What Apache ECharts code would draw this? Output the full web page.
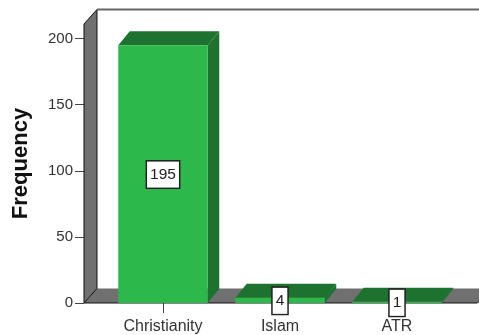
<!DOCTYPE html>
<html>
<head>
<meta charset="utf-8">
<style>html,body{margin:0;padding:0;background:#fff}#chart{width:479px;height:335px}</style>
<script src="https://cdn.jsdelivr.net/npm/echarts@6/dist/echarts.min.js"></script>
</head>
<body>
<div id="chart"></div>
<script>
// Frequency of respondents by religion
var categories = ['Christianity', 'Islam', 'ATR'];
var frequencies = [195, 4, 1];
var yTicks = [0, 50, 100, 150, 200];
var yTop = 211;

var FRONT = '#2db84b', SHADE = '#1e7230', WALL = '#707070', EDGE = '#111111';
var WALL_DX = 13, WALL_DY = -14.5, BAR_DX = 11.5, BAR_DY = -14, BAR_WIDTH = 89.5;

// Left wall, floor and back frame of the 3D box
function renderBox(params, api) {
  var cs = params.coordSys;
  var y0 = api.coord([0, 0])[1];
  var yT = api.coord([0, yTop])[1];
  var xL = cs.x - 20.5;
  var xR = cs.x + cs.width + 22;
  return {
    type: 'group',
    children: [
      { type: 'polygon', shape: { points: [[xL, y0], [xL + WALL_DX, y0 + WALL_DY], [xR + WALL_DX, y0 + WALL_DY], [xR, y0]] },
        style: { fill: WALL } },
      { type: 'polyline', shape: { points: [[xL, y0], [xR, y0], [xR + WALL_DX, y0 + WALL_DY]] },
        style: { fill: 'none', stroke: EDGE, lineWidth: 1 } },
      { type: 'polygon', shape: { points: [[xL, y0], [xL, yT], [xL + WALL_DX, yT + WALL_DY], [xL + WALL_DX, y0 + WALL_DY]] },
        style: { fill: WALL, stroke: EDGE, lineWidth: 1 } },
      { type: 'line', shape: { x1: xL + WALL_DX, y1: yT + WALL_DY, x2: xR + WALL_DX, y2: yT + WALL_DY },
        style: { stroke: '#666666', lineWidth: 2 } }
    ]
  };
}

// Extruded bar with its value box centred on the front face
function renderBar(params, api) {
  var top = api.coord([api.value(0), api.value(1)]);
  var base = api.coord([api.value(0), 0]);
  var l = top[0] - BAR_WIDTH / 2, r = top[0] + BAR_WIDTH / 2;
  return {
    type: 'group',
    children: [
      { type: 'polygon', shape: { points: [[l, top[1]], [l + BAR_DX, top[1] + BAR_DY], [r + BAR_DX, top[1] + BAR_DY], [r, top[1]]] },
        style: { fill: SHADE } },
      { type: 'polygon', shape: { points: [[r, top[1]], [r + BAR_DX, top[1] + BAR_DY], [r + BAR_DX, base[1] + BAR_DY], [r, base[1]]] },
        style: { fill: SHADE } },
      { type: 'rect', shape: { x: l, y: top[1], width: BAR_WIDTH, height: base[1] - top[1] },
        style: { fill: FRONT } },
      { type: 'text', x: top[0], y: (top[1] + base[1]) / 2 + 0.5, z2: 10,
        style: { text: String(api.value(1)), x: 0, y: 0, align: 'center', verticalAlign: 'middle',
          font: '15.5px "Liberation Sans", Arial, sans-serif', fill: '#222222',
          backgroundColor: '#ffffff', borderColor: '#222222', borderWidth: 1.5,
          padding: [5, 3, 5, 3] } }
    ]
  };
}

var chart = echarts.init(document.getElementById('chart'), null, { renderer: 'canvas' });
chart.setOption({
  animation: false,
  backgroundColor: '#ffffff',
  grid: { left: 104.5, width: 351, top: 24, height: 279.5 },
  xAxis: {
    type: 'category',
    data: categories,
    axisLine: { show: false },
    axisTick: { show: true, alignWithLabel: true, length: 10, lineStyle: { color: '#444444' } },
    axisLabel: { color: '#333333', fontSize: 16, fontFamily: '"Liberation Sans", Arial, sans-serif', margin: 16 }
  },
  yAxis: {
    type: 'value',
    min: 0,
    max: yTop,
    offset: 20.5,
    name: 'Frequency',
    nameLocation: 'middle',
    nameGap: 52,
    nameTextStyle: { color: '#111111', fontSize: 22, fontWeight: 'bold', fontFamily: '"Liberation Sans", Arial, sans-serif' },
    splitLine: { show: false },
    axisLine: { show: false },
    axisTick: { show: true, length: 9, customValues: yTicks, lineStyle: { color: '#444444' } },
    axisLabel: { color: '#333333', fontSize: 15, fontFamily: '"Liberation Sans", Arial, sans-serif', margin: 11, customValues: yTicks }
  },
  series: [
    { type: 'custom', renderItem: renderBox, data: [[0, 0]], z: 1, silent: true },
    { type: 'custom', renderItem: renderBar, z: 2, silent: true,
      data: categories.map(function (c, i) { return [i, frequencies[i]]; }),
      encode: { x: 0, y: 1 } }
  ]
});
</script>
</body>
</html>
